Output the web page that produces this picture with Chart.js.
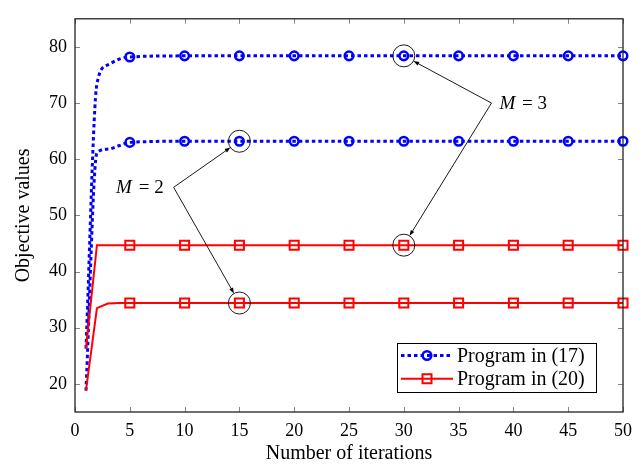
<!DOCTYPE html>
<html>
<head>
<meta charset="utf-8">
<script src="https://cdn.jsdelivr.net/npm/chart.js@4.4.1/dist/chart.umd.min.js"></script>
<style>
  html, body { margin: 0; padding: 0; background: #fff; }
  #wrap { width: 643px; height: 467px; }
</style>
</head>
<body>
<div id="wrap"><canvas id="myChart"></canvas></div>
<script>
// data
const iterations = [1, 2, 3, 4, 5, 10, 15, 20, 25, 30, 35, 40, 45, 50];
const markIters = [5, 10, 15, 20, 25, 30, 35, 40, 45, 50];
const prog17M3 = [26.3, 73.4, 76.8, 77.8, 78.2, 78.4, 78.4, 78.4, 78.4, 78.4, 78.4, 78.4, 78.4, 78.4];
const prog17M2 = [18.8, 61.1, 61.8, 62.4, 63.0, 63.2, 63.2, 63.2, 63.2, 63.2, 63.2, 63.2, 63.2, 63.2];
const prog20M3 = [26.3, 44.7, 44.7, 44.7, 44.7, 44.7, 44.7, 44.7, 44.7, 44.7, 44.7, 44.7, 44.7, 44.7];
const prog20M2 = [18.8, 33.5, 34.3, 34.4, 34.4, 34.4, 34.4, 34.4, 34.4, 34.4, 34.4, 34.4, 34.4, 34.4];
const xTicks = [0, 5, 10, 15, 20, 25, 30, 35, 40, 45, 50];
const yTicks = [20, 30, 40, 50, 60, 70, 80];
const legendLabels = ['Program in (17)', 'Program in (20)'];

// annotations: label, anchor (data coords), iteration that is circled
const noteM = ['2', '3'];
const noteAnchors = [[9, 55], [38, 70]];
const noteIter = [15, 30];

const FONT = "'Liberation Serif', 'Times New Roman', serif";
Chart.defaults.font.family = FONT;
Chart.defaults.color = '#000';

const BLUE = '#0000ff';
const RED = '#ff0000';

const toPts = (vals) => iterations.map((it, i) => ({ x: it, y: vals[i] }));
const markR = (r) => (c) => (markIters.includes(iterations[c.dataIndex]) ? r : 0);

const blueStyle = {
  borderColor: BLUE,
  borderWidth: 3,
  borderDash: [3.5, 3],
  cubicInterpolationMode: 'monotone',
  pointStyle: 'circle',
  pointRadius: markR(4.3),
  pointBorderWidth: 2.5,
  pointBorderColor: BLUE,
  pointBackgroundColor: 'rgba(0,0,0,0)',
  fill: false,
  clip: 12,
  order: 1,
};
const redStyle = {
  borderColor: RED,
  borderWidth: 2,
  tension: 0,
  pointStyle: 'rect',
  pointRadius: markR(6.4),
  pointBorderWidth: 2,
  pointBorderColor: RED,
  pointBackgroundColor: 'rgba(0,0,0,0)',
  fill: false,
  clip: 12,
  order: 0,
};

const datasets = [
  { label: legendLabels[0] + ' M=3', data: toPts(prog17M3), ...blueStyle },
  { label: legendLabels[0] + ' M=2', data: toPts(prog17M2), ...blueStyle },
  { label: legendLabels[1] + ' M=3', data: toPts(prog20M3), ...redStyle },
  { label: legendLabels[1] + ' M=2', data: toPts(prog20M2), ...redStyle },
];

function arrow(ctx, x1, y1, x2, y2) {
  const ang = Math.atan2(y2 - y1, x2 - x1);
  ctx.beginPath();
  ctx.moveTo(x1, y1);
  ctx.lineTo(x2 - 4 * Math.cos(ang), y2 - 4 * Math.sin(ang));
  ctx.stroke();
  ctx.beginPath();
  ctx.moveTo(x2, y2);
  ctx.lineTo(x2 - 6 * Math.cos(ang - 0.35), y2 - 6 * Math.sin(ang - 0.35));
  ctx.lineTo(x2 - 6 * Math.cos(ang + 0.35), y2 - 6 * Math.sin(ang + 0.35));
  ctx.closePath();
  ctx.fill();
}

const decorPlugin = {
  id: 'decor',
  afterDatasetsDraw(chart) {
    const { ctx, chartArea: a, scales: { x, y } } = chart;
    ctx.save();

    // frame + inner ticks
    ctx.strokeStyle = '#888';
    ctx.lineWidth = 1;
    xTicks.forEach((t) => {
      const px = Math.round(x.getPixelForValue(t)) + 0.5;
      ctx.beginPath();
      ctx.moveTo(px, a.bottom); ctx.lineTo(px, a.bottom - 5);
      ctx.moveTo(px, a.top); ctx.lineTo(px, a.top + 5);
      ctx.stroke();
    });
    yTicks.forEach((t) => {
      const py = Math.round(y.getPixelForValue(t)) + 0.5;
      ctx.beginPath();
      ctx.moveTo(a.left, py); ctx.lineTo(a.left + 5, py);
      ctx.moveTo(a.right, py); ctx.lineTo(a.right - 5, py);
      ctx.stroke();
    });
    ctx.strokeStyle = '#222';
    ctx.lineWidth = 1.3;
    ctx.strokeRect(a.left, a.top, a.right - a.left, a.bottom - a.top);

    // annotations
    ctx.strokeStyle = '#000';
    ctx.fillStyle = '#000';
    ctx.lineWidth = 0.9;
    const groups = [[prog17M2, prog20M2], [prog17M3, prog20M3]];
    noteAnchors.forEach((an, k) => {
      const ax = x.getPixelForValue(an[0]);
      const ay = y.getPixelForValue(an[1]);
      const idx = iterations.indexOf(noteIter[k]);
      groups[k].forEach((series) => {
        const cx = x.getPixelForValue(noteIter[k]);
        const cy = y.getPixelForValue(series[idx]);
        const r = 11;
        ctx.beginPath();
        ctx.arc(cx, cy, r, 0, Math.PI * 2);
        ctx.stroke();
        const d = Math.hypot(cx - ax, cy - ay);
        arrow(ctx, ax, ay, cx - (cx - ax) / d * r, cy - (cy - ay) / d * r);
      });
      // label text
      ctx.textBaseline = 'middle';
      const italic = 'italic 19px ' + FONT;
      const upright = '19px ' + FONT;
      ctx.font = italic;
      const wM = ctx.measureText('M').width;
      ctx.font = upright;
      const rest = ' = ' + noteM[k];
      const wR = ctx.measureText(rest).width;
      const tx = k === 0 ? ax - 10 - (wM + wR + 2) : ax + 8;
      const ty = ay + 1;
      ctx.font = italic;
      ctx.textAlign = 'left';
      ctx.fillText('M', tx, ty);
      ctx.font = upright;
      ctx.fillText(rest, tx + wM + 2, ty);
    });

    // legend box
    const boxW = 199, boxH = 49;
    const x0 = a.right - 27 - boxW;
    const y0 = a.bottom - 20 - boxH;
    ctx.fillStyle = '#fff';
    ctx.fillRect(x0, y0, boxW, boxH);
    ctx.strokeStyle = '#000';
    ctx.lineWidth = 1;
    ctx.strokeRect(x0 + 0.5, y0 + 0.5, boxW, boxH);
    legendLabels.forEach((label, i) => {
      const ds = chart.data.datasets[i * 2];
      const cy = y0 + 12.5 + i * 23.3;
      ctx.strokeStyle = ds.borderColor;
      ctx.lineWidth = ds.borderWidth;
      ctx.setLineDash(ds.borderDash || []);
      ctx.beginPath();
      ctx.moveTo(x0 + 4, cy);
      ctx.lineTo(x0 + 56, cy);
      ctx.stroke();
      ctx.setLineDash([]);
      ctx.lineWidth = ds.pointBorderWidth;
      const mx = x0 + 30;
      ctx.beginPath();
      if (ds.pointStyle === 'circle') {
        ctx.arc(mx, cy, 4.3, 0, Math.PI * 2);
      } else {
        ctx.rect(mx - 4.5, cy - 4.5, 9, 9);
      }
      ctx.stroke();
      ctx.fillStyle = '#000';
      ctx.font = '20px ' + FONT;
      ctx.textAlign = 'left';
      ctx.textBaseline = 'middle';
      ctx.fillText(label, x0 + 60, cy + 1);
    });
    ctx.restore();
  },
};

const config = {
  type: 'line',
  data: { datasets },
  options: {
    responsive: true,
    maintainAspectRatio: false,
    animation: false,
    events: [],
    layout: { padding: { top: 7, right: 20, left: 0, bottom: 0 } },
    plugins: { legend: { display: false }, tooltip: { enabled: false } },
    scales: {
      x: {
        type: 'linear',
        min: 0,
        max: 50,
        afterBuildTicks: (s) => { s.ticks = xTicks.map((v) => ({ value: v })); },
        afterFit: (s) => { s.height = 55; },
        grid: { display: false, drawTicks: false },
        border: { display: false },
        ticks: { font: { family: FONT, size: 18 }, color: '#000', padding: 8, maxRotation: 0, autoSkip: false },
        title: { display: true, text: 'Number of iterations', font: { family: FONT, size: 20 }, color: '#000', padding: { top: 0, bottom: 1 } },
      },
      y: {
        min: 15,
        max: 85,
        afterBuildTicks: (s) => { s.ticks = yTicks.map((v) => ({ value: v })); },
        afterFit: (s) => { s.width = 75; },
        grid: { display: false, drawTicks: false },
        border: { display: false },
        ticks: { font: { family: FONT, size: 18 }, color: '#000', padding: 8 },
        title: { display: true, text: 'Objective values', font: { family: FONT, size: 20 }, color: '#000', padding: { top: 12, bottom: 0 } },
      },
    },
  },
  plugins: [decorPlugin],
};

const myChart = new Chart(document.getElementById('myChart'), config);
</script>
</body>
</html>
